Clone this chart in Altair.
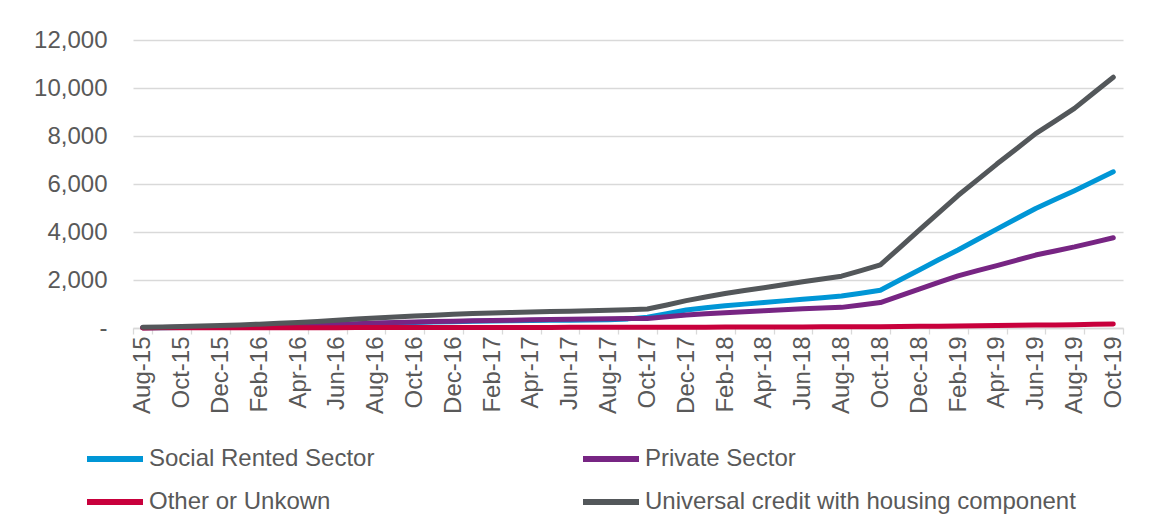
import altair as alt
import pandas as pd

months = [
    "Aug-15", "Sep-15", "Oct-15", "Nov-15", "Dec-15", "Jan-16", "Feb-16", "Mar-16", "Apr-16", "May-16",
    "Jun-16", "Jul-16", "Aug-16", "Sep-16", "Oct-16", "Nov-16", "Dec-16", "Jan-17", "Feb-17", "Mar-17",
    "Apr-17", "May-17", "Jun-17", "Jul-17", "Aug-17", "Sep-17", "Oct-17", "Nov-17", "Dec-17", "Jan-18",
    "Feb-18", "Mar-18", "Apr-18", "May-18", "Jun-18", "Jul-18", "Aug-18", "Sep-18", "Oct-18", "Nov-18",
    "Dec-18", "Jan-19", "Feb-19", "Mar-19", "Apr-19", "May-19", "Jun-19", "Jul-19", "Aug-19", "Sep-19",
    "Oct-19",
]

social = [
    10, 15, 20, 28, 38, 50, 62, 78, 95, 115,
    138, 162, 188, 210, 232, 250, 265, 280, 292, 302,
    310, 318, 325, 335, 345, 380, 450, 600, 750, 840,
    930, 995, 1060, 1130, 1200, 1265, 1330, 1450, 1570, 2000,
    2420, 2840, 3250, 3690, 4120, 4550, 4980, 5350, 5720, 6110,
    6510,
]
private = [
    15, 20, 28, 38, 50, 62, 76, 92, 110, 130,
    152, 178, 205, 228, 250, 268, 285, 300, 315, 328,
    340, 350, 360, 372, 385, 395, 400, 470, 540, 590,
    640, 680, 720, 760, 805, 835, 860, 960, 1060, 1340,
    1620, 1900, 2170, 2390, 2600, 2820, 3040, 3210, 3380, 3570,
    3760,
]
other = [
    5, 6, 7, 8, 9, 10, 11, 12, 13, 14,
    15, 16, 17, 18, 19, 20, 21, 22, 23, 24,
    25, 26, 27, 28, 29, 30, 31, 33, 35, 36,
    38, 40, 42, 44, 46, 48, 50, 53, 56, 62,
    68, 74, 80, 90, 100, 110, 120, 130, 140, 152,
    165,
]
universal = [
    30, 45, 60, 80, 100, 130, 160, 195, 230, 275,
    320, 370, 420, 460, 500, 535, 570, 600, 630, 650,
    670, 685, 700, 720, 740, 765, 790, 960, 1140, 1290,
    1440, 1560, 1680, 1800, 1930, 2040, 2160, 2390, 2630, 3350,
    4080, 4800, 5520, 6170, 6830, 7460, 8100, 8620, 9150, 9800,
    10450,
]

series_names = [
    "Social Rented Sector",
    "Private Sector",
    "Other or Unkown",
    "Universal credit with housing component",
]
series_colors = ["#0096D6", "#772583", "#C8003C", "#53575A"]
x_tick_labels = months[::2]
y_ticks = [0, 2000, 4000, 6000, 8000, 10000, 12000]

rows = []
for name, vals in zip(series_names, [social, private, other, universal]):
    for m, v in zip(months, vals):
        rows.append({"month": m, "series": name, "value": v})
df = pd.DataFrame(rows)

FONT = "Liberation Sans"
TXT = "#595959"
GRID = "#D9D9D9"
FS = 24

x_enc = alt.X(
    "month:O",
    sort=months,
    bandPosition=0.5,
    scale=alt.Scale(type="band", paddingInner=0, paddingOuter=0),
    axis=alt.Axis(
        values=x_tick_labels,
        labelAngle=270,
        tickBand="extent",
        title=None,
        grid=False,
        domainColor=GRID,
        domainWidth=1.3,
        tickColor=GRID,
        tickWidth=1.3,
        tickSize=6,
        labelPadding=2,
        labelFont=FONT,
        labelFontSize=FS,
        labelColor=TXT,
    ),
)

y_enc = alt.Y(
    "value:Q",
    scale=alt.Scale(domain=[0, 12000], nice=False),
    axis=alt.Axis(
        values=y_ticks,
        labelExpr="datum.value == 0 ? '-\u2007' : format(datum.value, ',')",
        title=None,
        grid=True,
        gridColor=GRID,
        gridWidth=1.3,
        ticks=False,
        domain=False,
        labelPadding=26,
        labelFont=FONT,
        labelFontSize=FS,
        labelColor=TXT,
    ),
)

color_enc = alt.Color(
    "series:N",
    scale=alt.Scale(domain=series_names, range=series_colors),
    legend=alt.Legend(
        title=None,
        orient="none",
        direction="horizontal",
        legendX=-49,
        legendY=388,
        columns=2,
        symbolType="stroke",
        symbolSize=3136,
        symbolStrokeWidth=6,
        labelFont=FONT,
        labelFontSize=FS,
        labelColor=TXT,
        labelOffset=3,
        labelLimit=800,
        columnPadding=196,
        rowPadding=0,
    ),
)

layers = [
    alt.Chart(df)
    .transform_filter(alt.datum.series == name)
    .mark_line(strokeWidth=5, strokeCap="round", strokeJoin="round")
    .encode(x=x_enc, y=y_enc, color=color_enc)
    for name in series_names
]

chart = (
    alt.layer(*layers)
    .properties(
        width=990,
        height=288,
        padding={"left": 125, "top": 32, "right": 27, "bottom": 194},
        autosize=alt.AutoSizeParams(type="none"),
    )
    .configure_view(stroke=None)
)

chart.save("out.html", embed_options={"renderer": "svg", "actions": False})
